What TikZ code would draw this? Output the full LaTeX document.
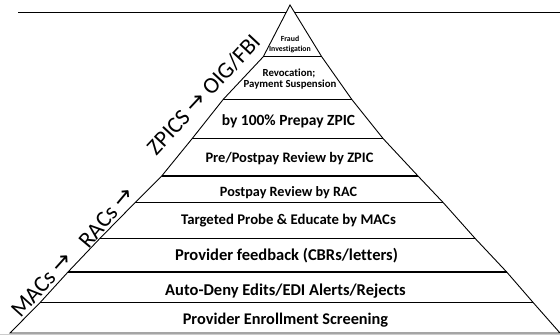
\documentclass[tikz,border=0pt]{standalone}
\usepackage{fontspec}
\setmainfont{Carlito}[Ligatures=NoCommon]
\newfontfamily\arrowfont{DejaVu Sans}
\usetikzlibrary{positioning}
\newcommand{\nextup}{{\arrowfont →}}
\tikzset{
    outline/.style = {draw=black, line width=0.9pt, fill=white, line join=miter},
    divider/.style = {line width=1.3pt},
    tier/.style = {font=\bfseries\fontsize{#1}{#1}\selectfont, anchor=base, inner sep=0pt},
    who/.style = {font=\fontsize{23}{23}\selectfont, inner sep=0pt, rotate=#1}
}

\begin{document}
\begin{tikzpicture}[x=1pt, y=-1pt]
  \useasboundingbox (0,0) rectangle (560,335);

  % rule across the top and faint floor line
  \draw[line width=1.5pt] (18,12.7) -- (560,12.7);
  \draw[black!20, line width=0.8pt] (0,334) -- (560,334);

  % left and right ends of every level
  \coordinate (apex) at (290,5);
  \foreach \i/\y/\l/\r in {1/56.7/263.3/321.7, 2/99.3/223.3/351.7, 3/138.8/192/383.3,
      4/176/161.7/418, 5/202.7/135/443.3, 6/238.3/100/475, 7/272/68/506.7,
      8/302.7/40/533.3, 9/333/10/560} {
    \coordinate (l\i) at (\l,\y);
    \coordinate (r\i) at (\r,\y);
  }

  \draw[outline] (apex) -- (l1) -- (l2) -- (l3) -- (l4) -- (l5) -- (l6) -- (l7) -- (l8) -- (l9)
    -- (r9) -- (r8) -- (r7) -- (r6) -- (r5) -- (r4) -- (r3) -- (r2) -- (r1) -- cycle;
  \foreach \i in {1,...,8}
    \draw[divider] (l\i) -- (r\i);

  % level labels, top to bottom
  \node[tier=7.8] (fraud) at (290,41.7) {Fraud};
  \node[tier=7.8] (invest) at (290,51.7) {Investigation};
  \node[tier=10.8] (revoke) at (289,76) {Revocation;};
  \node[tier=10.8] (suspend) at (290,87.3) {Payment Suspension};
  \node[tier=15.5] (prepay) at (288.5,125) {by 100\% Prepay ZPIC};
  \node[tier=14.5] (prepost) at (289.5,162) {Pre/Postpay Review by ZPIC};
  \node[tier=14.2] (postpay) at (288.5,196.3) {Postpay Review by RAC};
  \node[tier=14.75] (probe) at (288.5,224) {Targeted Probe \& Educate by MACs};
  \node[tier=16.5] (feedback) at (286.5,260) {Provider feedback (CBRs/letters)};
  \node[tier=16.5] (autodeny) at (285.5,295.7) {Auto-Deny Edits/EDI Alerts/Rejects};
  \node[tier=16.3] (enroll) at (285.5,324) {Provider Enrollment Screening};

  % who acts at each stage, along the left side
  \node[who=48] (macs) at (41.5,284.5) {MACs \nextup};
  \node[who=50] (racs) at (106,217.5) {RACs \nextup};
  \node[who=47] (zpics) at (203.5,94.5) {ZPICS \nextup{} OIG/FBI};
\end{tikzpicture}
\end{document}
